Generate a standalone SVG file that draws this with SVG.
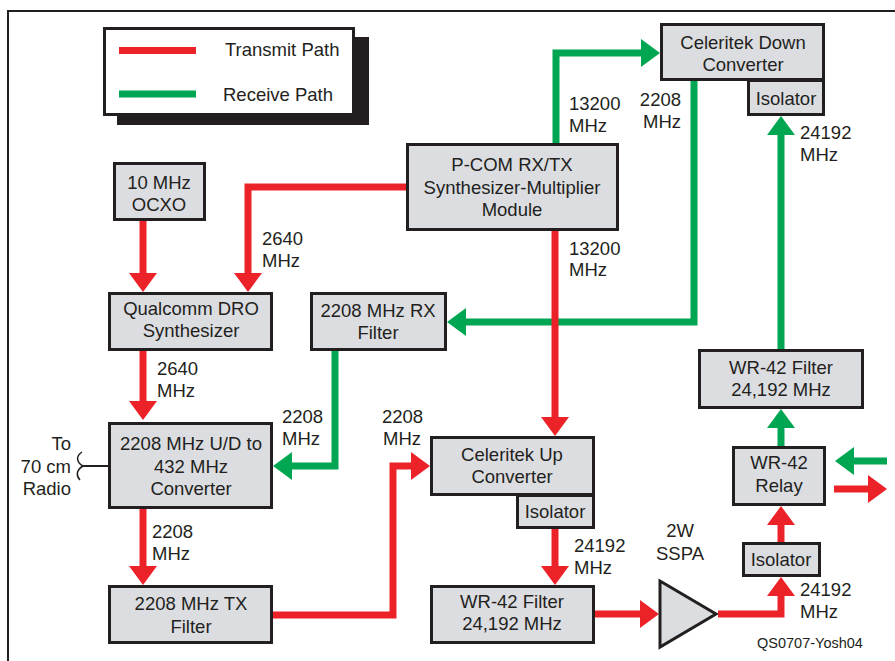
<svg xmlns="http://www.w3.org/2000/svg" width="895" height="661" viewBox="0 0 895 661">
<defs>
<style>
text{font-family:"Liberation Sans",Arial,sans-serif;font-size:18.5px;fill:#231f20}
.c{text-anchor:middle}
.e{text-anchor:end}
.box{fill:#dcdde0;stroke:#231f20;stroke-width:3}
.tx{fill:none;stroke:#ec2229;stroke-width:7;stroke-linejoin:miter}
.rx{fill:none;stroke:#00a651;stroke-width:7;stroke-linejoin:miter}
.txa{marker-end:url(#ar)}
.rxa{marker-end:url(#ag)}
</style>
<marker id="ar" markerUnits="userSpaceOnUse" markerWidth="19" markerHeight="28" viewBox="0 0 19 28" refX="11" refY="14" orient="auto"><path d="M0,0 L19,14 L0,28 Z" fill="#ec2229"/></marker>
<marker id="ag" markerUnits="userSpaceOnUse" markerWidth="19" markerHeight="28" viewBox="0 0 19 28" refX="11" refY="14" orient="auto"><path d="M0,0 L19,14 L0,28 Z" fill="#00a651"/></marker>
</defs>
<rect width="895" height="661" fill="#fff"/>
<path d="M8,661 V11 H895" fill="none" stroke="#231f20" stroke-width="2"/>

<g id="legend">
<rect x="117" y="37" width="252" height="88" fill="#231f20"/>
<rect x="104.5" y="28.5" width="249" height="86" fill="#fff" stroke="#231f20" stroke-width="3"/>
<line x1="119" y1="50.5" x2="196" y2="50.5" stroke="#ec2229" stroke-width="7"/>
<line x1="119" y1="94" x2="196" y2="94" stroke="#00a651" stroke-width="7"/>
<text x="225" y="56">Transmit Path</text>
<text x="223" y="101">Receive Path</text>
</g>

<g id="connectors">
<path class="tx txa" d="M143,221 V284"/>
<path class="tx txa" d="M406,187 H248 V284"/>
<path class="tx txa" d="M143,351 V412"/>
<path class="tx txa" d="M143,509 V577"/>
<path class="tx txa" d="M273,615 H393 V466 H422"/>
<path class="rx rxa" d="M335,351 V466 H281"/>
<path class="rx rxa" d="M556,143 V53 H652"/>
<path class="rx rxa" d="M694,81 V322 H455"/>
<path class="tx txa" d="M555,231 V428"/>
<path class="tx txa" d="M555,529 V577"/>
<path class="tx txa" d="M595,614 H651"/>
<path class="tx txa" d="M718,614 H781 V585"/>
<path class="tx txa" d="M781,542 V514"/>
<path class="rx rxa" d="M781,446 V417"/>
<path class="rx rxa" d="M781,349 V124"/>
<path class="rx rxa" d="M887,461 H843"/>
<path class="tx txa" d="M834,489 H879"/>
<path d="M83,466 H108" fill="none" stroke="#231f20" stroke-width="2"/>
<path d="M82,452 C76,456 76,462 83,466 C76,470 76,476 80,480" fill="none" stroke="#231f20" stroke-width="1.5"/>
</g>

<g id="ocxo"><rect class="box" x="114.5" y="163.5" width="90" height="56"/><text class="c" x="159" y="189">10 MHz</text><text class="c" x="159" y="211">OCXO</text></g>
<g id="qualcomm"><rect class="box" x="109.5" y="293.5" width="162" height="56"/><text class="c" x="191" y="315">Qualcomm DRO</text><text class="c" x="191" y="337">Synthesizer</text></g>
<g id="udconverter"><rect class="box" x="109.5" y="423.5" width="162" height="84"/><text class="c" x="191" y="450">2208 MHz U/D to</text><text class="c" x="191" y="473">432 MHz</text><text class="c" x="191" y="495">Converter</text></g>
<g id="txfilter"><rect class="box" x="109.5" y="586.5" width="162" height="56"/><text class="c" x="191" y="610">2208 MHz TX</text><text class="c" x="191" y="633">Filter</text></g>
<g id="rxfilter"><rect class="box" x="311.5" y="293.5" width="134" height="56"/><text class="c" x="378" y="317">2208 MHz RX</text><text class="c" x="378" y="339">Filter</text></g>
<g id="pcom"><rect class="box" x="407.5" y="144.5" width="210" height="85"/><text class="c" x="512" y="171">P-COM RX/TX</text><text class="c" x="512" y="194">Synthesizer-Multiplier</text><text class="c" x="512" y="216">Module</text></g>
<g id="downconv"><rect class="box" x="661.5" y="24.5" width="162" height="55"/><text class="c" x="743" y="49">Celeritek Down</text><text class="c" x="743" y="71">Converter</text></g>
<g id="downiso"><rect class="box" x="748.5" y="80.5" width="75" height="34"/><text class="c" x="786" y="105">Isolator</text></g>
<g id="upconv"><rect class="box" x="431.5" y="437.5" width="162" height="57"/><text class="c" x="512" y="461">Celeritek Up</text><text class="c" x="512" y="483">Converter</text></g>
<g id="upiso"><rect class="box" x="517.5" y="495.5" width="76" height="32"/><text class="c" x="555" y="518">Isolator</text></g>
<g id="wrfilter-tx"><rect class="box" x="431.5" y="586.5" width="162" height="56"/><text class="c" x="512" y="608">WR-42 Filter</text><text class="c" x="512" y="630">24,192 MHz</text></g>
<g id="wrfilter-rx"><rect class="box" x="699.5" y="350.5" width="163" height="57"/><text class="c" x="781" y="374">WR-42 Filter</text><text class="c" x="781" y="396">24,192 MHz</text></g>
<g id="relay"><rect class="box" x="733.5" y="447.5" width="91" height="57"/><text class="c" x="779" y="469">WR-42</text><text class="c" x="779" y="492">Relay</text></g>
<g id="txiso"><rect class="box" x="743.5" y="543.5" width="76" height="32"/><text class="c" x="781" y="566">Isolator</text></g>
<g id="sspa"><polygon class="box" points="660,581 716,614 660,647"/><text class="c" x="680" y="537">2W</text><text class="c" x="680" y="560">SSPA</text></g>

<g id="labels">
<text x="262" y="245">2640</text><text x="262" y="267">MHz</text>
<text x="569" y="110">13200</text><text x="569" y="132">MHz</text>
<text class="e" x="681" y="106">2208</text><text class="e" x="681" y="128">MHz</text>
<text x="800" y="139">24192</text><text x="800" y="161">MHz</text>
<text x="569" y="255">13200</text><text x="569" y="276">MHz</text>
<text x="157" y="375">2640</text><text x="157" y="397">MHz</text>
<text x="282" y="423">2208</text><text x="282" y="445">MHz</text>
<text x="382" y="423">2208</text><text x="383" y="445">MHz</text>
<text x="152" y="538">2208</text><text x="152" y="560">MHz</text>
<text x="574" y="552">24192</text><text x="574" y="574">MHz</text>
<text x="800" y="596">24192</text><text x="800" y="618">MHz</text>
<text class="e" x="71" y="450">To</text><text class="e" x="71" y="473">70 cm</text><text class="e" x="71" y="495">Radio</text>
<text x="757" y="648" style="font-size:14.5px">QS0707-Yosh04</text>
</g>
</svg>
